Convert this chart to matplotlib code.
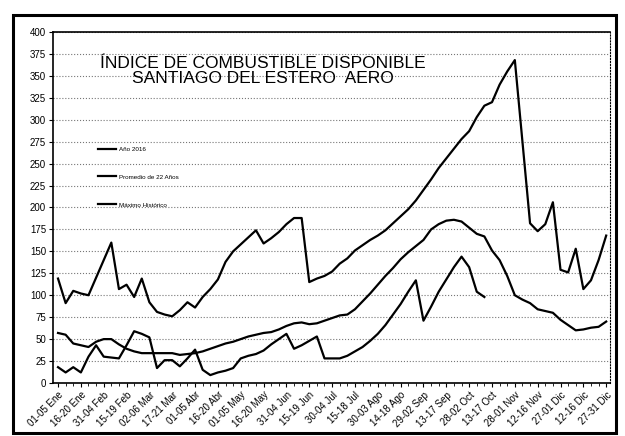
import matplotlib
matplotlib.use("Agg")
import matplotlib.pyplot as plt
from matplotlib.patches import Rectangle
import numpy as np

plt.rcParams['font.family'] = ['Liberation Sans', 'DejaVu Sans']

tick_labels = ["01-05 Ene", "16-20 Ene", "31-04 Feb", "15-19 Feb", "02-06 Mar", "17-21 Mar",
               "01-05 Abr", "16-20 Abr", "01-05 May", "16-20 May", "31-04 Jun", "15-19 Jun",
               "30-04 Jul", "15-18 Jul", "30-03 Ago", "14-18 Ago", "29-02 Sep", "13-17 Sep",
               "28-02 Oct", "13-17 Oct", "28-01 Nov", "12-16 Nov", "27-01 Dic", "12-16 Dic",
               "27-31 Dic"]

anio_2016 = [18, 12, 18, 12, 30, 43, 30, 29, 28, 43, 59, 56, 52, 17, 26, 26, 19, 28, 38, 15,
             9, 12, 14, 17, 28, 31, 33, 37, 44, 50, 56, 39, 43, 48, 53, 28, 28, 28, 31, 36,
             41, 48, 56, 66, 78, 90, 104, 117, 71, 87, 104, 118, 132, 144, 132, 104, 98]

promedio = [57, 55, 45, 43, 41, 47, 50, 50, 44, 39, 36, 34, 34, 34, 34, 34, 32, 33, 34, 36,
            39, 42, 45, 47, 50, 53, 55, 57, 58, 61, 65, 68, 69, 67, 68, 71, 74, 77, 78, 84,
            93, 102, 112, 122, 131, 141, 149, 156, 163, 175, 181, 185, 186, 184, 177, 170, 167, 151,
            140, 122, 100, 95, 91, 84, 82, 80, 72, 66, 60, 61, 63, 64, 70]

maximo = [119, 91, 105, 102, 100, 120, 140, 160, 107, 112, 98, 119, 92, 81, 78, 76, 83, 92, 86, 98,
          107, 118, 138, 150, 158, 166, 174, 159, 165, 172, 181, 188, 188, 115, 119, 122, 127, 136,
          142, 151, 157, 163, 168, 174, 182, 190, 198, 208, 220, 232, 245, 256, 267, 278, 287, 303,
          316, 320, 340, 355, 368, 275, 182, 173, 181, 206, 129, 126, 153, 107, 117, 140, 168]

fig = plt.figure(figsize=(6.25, 4.36), dpi=100)
ax = fig.add_axes([0.0848, 0.1216, 0.976 - 0.0848, 0.9266 - 0.1216])

ax.plot(range(len(anio_2016)), anio_2016, color='black', lw=1.6, label='Año 2016')
ax.plot(range(len(promedio)), promedio, color='black', lw=1.6, label='Promedio de 22 Años')
ax.plot(range(len(maximo)), maximo, color='black', lw=1.6, label='Máximo Histórico')

ax.set_xlim(-0.66, 72.5)
ax.set_ylim(0, 400)
ax.set_yticks(np.arange(0, 401, 25))
ax.tick_params(axis='y', labelsize=7, length=3, pad=2)
ax.set_xticks(np.arange(0, 73, 3))
ax.set_xticks(np.arange(0, 73, 1), minor=True)
ax.set_xticklabels(tick_labels, rotation=45, ha='right', rotation_mode='anchor', fontsize=7)
ax.tick_params(axis='x', length=3, pad=2)
ax.tick_params(axis='x', which='minor', length=2)
ax.yaxis.grid(True, linestyle=':', color='#777777', linewidth=0.8)
ax.set_axisbelow(True)
for s in ['left', 'bottom', 'top']:
    ax.spines[s].set_linewidth(1.2)
ax.spines['right'].set_linestyle(':')
ax.spines['right'].set_linewidth(0.8)

ax.text(26.9, 356, "ÍNDICE DE COMBUSTIBLE DISPONIBLE\nSANTIAGO DEL ESTERO  AERO",
        ha='center', va='center', fontsize=12.5, linespacing=1.0)

ax.legend(loc='upper left', bbox_to_anchor=(0.07, 0.69), frameon=False, fontsize=4.5,
          handlelength=3, handletextpad=0.4, labelspacing=3.6)

fig.patches.append(Rectangle((13/625, 1 - 433/436), (616 - 13)/625, (433 - 15)/436,
                             transform=fig.transFigure, fill=False, edgecolor='black',
                             linewidth=2.2, zorder=0))

fig.savefig("out.png", dpi=100)
